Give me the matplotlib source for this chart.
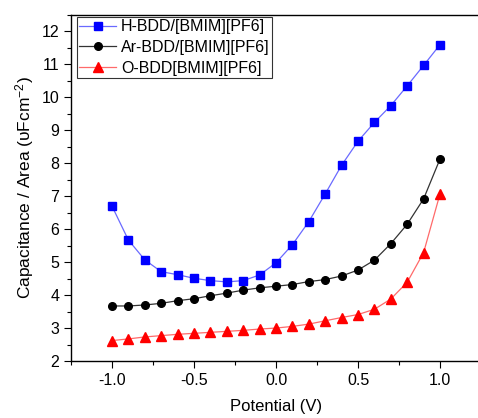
import matplotlib
matplotlib.use("Agg")
import matplotlib.pyplot as plt
from matplotlib.ticker import MultipleLocator

plt.rcParams['font.family'] = ['Liberation Sans', 'DejaVu Sans']
plt.rcParams['mathtext.fontset'] = 'custom'
plt.rcParams['mathtext.rm'] = 'Liberation Sans'
plt.rcParams['mathtext.it'] = 'Liberation Sans'

potential = [-1.0, -0.9, -0.8, -0.7, -0.6, -0.5, -0.4, -0.3, -0.2, -0.1, 0.0,
             0.1, 0.2, 0.3, 0.4, 0.5, 0.6, 0.7, 0.8, 0.9, 1.0]

h_bdd = [6.70, 5.67, 5.07, 4.71, 4.62, 4.51, 4.44, 4.40, 4.44, 4.61, 4.98,
         5.53, 6.23, 7.07, 7.94, 8.67, 9.24, 9.75, 10.35, 10.97, 11.60]
ar_bdd = [3.67, 3.67, 3.70, 3.75, 3.83, 3.89, 3.98, 4.06, 4.15, 4.22, 4.27,
          4.32, 4.41, 4.47, 4.58, 4.76, 5.06, 5.56, 6.15, 6.92, 8.13]
o_bdd = [2.62, 2.67, 2.73, 2.77, 2.81, 2.84, 2.87, 2.90, 2.93, 2.97, 3.00,
         3.05, 3.12, 3.22, 3.32, 3.41, 3.57, 3.88, 4.39, 5.29, 7.07]

labels = ["H-BDD/[BMIM][PF6]", "Ar-BDD/[BMIM][PF6]", "O-BDD[BMIM][PF6]"]

fig = plt.figure(figsize=(4.78, 4.18), dpi=100)
ax = fig.add_axes([71 / 478, 57 / 418, 410 / 478, 346 / 418])

ax.plot(potential, h_bdd, color='#6a6aff', lw=0.9, marker='s', ms=5.5,
        mfc='#0000ff', mec='#0000ff', label=labels[0])
ax.plot(potential, ar_bdd, color='#333333', lw=0.9, marker='o', ms=5.5,
        mfc='black', mec='black', label=labels[1])
ax.plot(potential, o_bdd, color='#ff6a6a', lw=0.9, marker='^', ms=6.5,
        mfc='#ff0000', mec='#ff0000', label=labels[2])

ax.set_xlim(-1.25, 1.25)
ax.set_ylim(2, 12.5)
ax.xaxis.set_major_locator(MultipleLocator(0.5))
ax.xaxis.set_minor_locator(MultipleLocator(0.25))
ax.yaxis.set_major_locator(MultipleLocator(1))
ax.yaxis.set_minor_locator(MultipleLocator(0.5))
ax.xaxis.set_major_formatter(plt.FuncFormatter(lambda v, p: f"{v:.1f}"))
ax.tick_params(which='major', direction='out', length=5, width=0.8, labelsize=11.5)
ax.tick_params(which='minor', direction='out', length=3, width=0.8)
ax.tick_params(top=False, right=False)
for s in ax.spines.values():
    s.set_linewidth(1.0)

ax.set_xlabel("Potential (V)", fontsize=12, labelpad=8)
ax.set_ylabel("Capacitance / Area (υFcm$^{-2}$)", fontsize=12.5, labelpad=4)

leg = ax.legend(loc='upper left', bbox_to_anchor=(6 / 410, 1 - 2 / 346),
                fontsize=11.5, frameon=True, fancybox=False,
                borderaxespad=0, borderpad=0.15, handlelength=2.3,
                handletextpad=0.3, labelspacing=0.35)
leg.get_frame().set_edgecolor('black')
leg.get_frame().set_linewidth(0.8)

fig.savefig("out.png", dpi=100)
